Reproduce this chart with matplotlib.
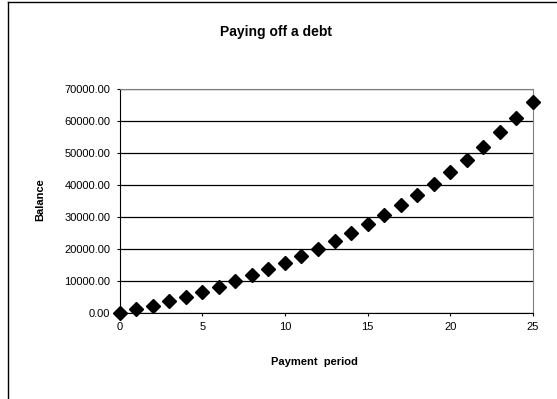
import matplotlib

matplotlib.use("Agg")
import matplotlib.pyplot as plt
from matplotlib.lines import Line2D

plt.rcParams["font.family"] = ["Liberation Sans", "DejaVu Sans"]

# balance at each payment period
periods = list(range(26))
balance = [0, 1250, 2400, 3850, 5100, 6770, 8330, 10100, 11870, 13750,
           15830, 18020, 20100, 22600, 25100, 27900, 30730, 33750, 37080,
           40520, 44270, 48020, 52080, 56560, 61150, 65940]
y_ticks = [0, 10000, 20000, 30000, 40000, 50000, 60000, 70000]
x_ticks = [0, 5, 10, 15, 20, 25]

fig = plt.figure(figsize=(5.57, 3.99), dpi=100)
ax = fig.add_axes([119.5 / 557, 1 - 313.3 / 399, 413.5 / 557, 224 / 399])

ax.plot(periods, balance, linestyle="none", marker="D", markersize=6.8,
        color="black", clip_on=False, zorder=5)

ax.set_xlim(0, 25)
ax.set_ylim(0, 70000)
ax.set_xticks(x_ticks)
ax.set_yticks(y_ticks)
ax.set_yticklabels([f"{v:.2f}" for v in y_ticks])
ax.tick_params(labelsize=8, length=2.5, width=0.8, direction="out", pad=4)
ax.yaxis.grid(True, color="black", linewidth=0.9)
ax.set_axisbelow(True)

for side in ("top", "right"):
    ax.spines[side].set_color("#808080")
for side in ("left", "bottom"):
    ax.spines[side].set_color("black")

fig.text(276 / 557, 1 - 32 / 399, "Paying off a debt", ha="center",
         va="center", fontsize=10, fontweight="bold")
fig.text(40 / 557, 1 - 200 / 399, "Balance", ha="center", va="center",
         rotation=90, fontsize=8, fontweight="bold")
fig.text(314 / 557, 1 - 362 / 399, "Payment  period", ha="center",
         va="center", fontsize=8, fontweight="bold")

# outer chart-area border (runs off the right and bottom edges)
fig.add_artist(Line2D([8 / 557, 8 / 557], [0, 1 - 2 / 399],
                      transform=fig.transFigure, color="black", linewidth=1))
fig.add_artist(Line2D([8 / 557, 1], [1 - 2 / 399, 1 - 2 / 399],
                      transform=fig.transFigure, color="black", linewidth=1))

fig.savefig("out.png", dpi=100)
